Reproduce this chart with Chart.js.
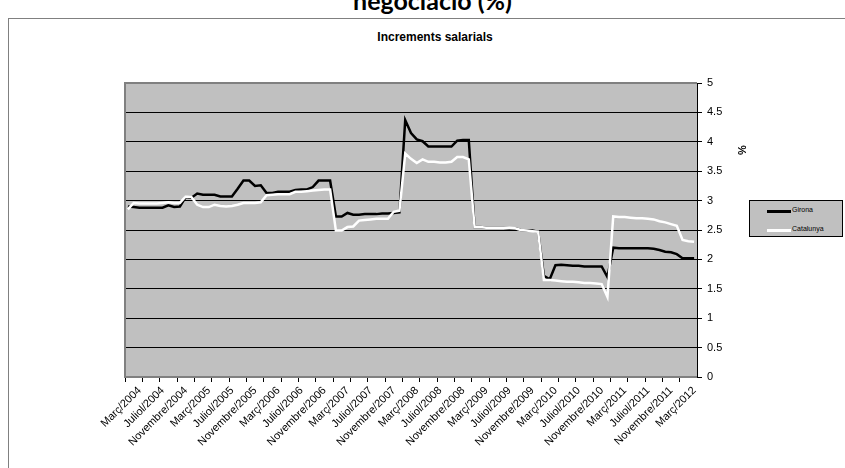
<!DOCTYPE html>
<html>
<head>
<meta charset="utf-8">
<script src="https://cdn.jsdelivr.net/npm/chart.js@4.4.1/dist/chart.umd.min.js"></script>
<style>
    body { margin: 0; width: 845px; height: 468px; overflow: hidden; position: relative; background: #fff; font-family: "Liberation Sans", Arial, sans-serif; }
    #frame { position: absolute; left: 8px; top: 18px; width: 900px; height: 500px; border: 1px solid #808080; }
    #bigTitle { position: absolute; left: 0; width: 865px; top: -15px; text-align: center; font: bold 25px Lato, sans-serif; color: #000; }
    #chartTitle { position: absolute; left: 0; width: 870px; top: 30px; text-align: center; font: bold 12px "Liberation Sans", Arial, sans-serif; color: #000; }
    #chart { position: absolute; left: 0; top: 0; }
    #legend { position: absolute; left: 749px; top: 200px; width: 94px; height: 37px; background: #C0C0C0; border: 1px solid #000; box-sizing: border-box; }
    .item { position: absolute; left: 17px; font: 7px "Liberation Sans", Arial, sans-serif; color: #000; }
    .item span.swatch { position: absolute; left: 0; width: 24px; height: 3px; }
    .item span.txt { position: absolute; left: 25px; top: -4px; white-space: nowrap; }
</style>
</head>
<body>
<div id="frame"></div>
<div id="bigTitle">negociació (%)</div>
<div id="chartTitle">Increments salarials</div>
<canvas id="chart" width="845" height="468"></canvas>
<div id="legend"></div>
<script>
// Monthly data, Febrer/2004 .. Abril/2012
const monthNames = ['Gener', 'Febrer', 'Març', 'Abril', 'Maig', 'Juny', 'Juliol', 'Agost', 'Setembre', 'Octubre', 'Novembre', 'Desembre'];

const girona = [
    2.90, 2.89, 2.88, 2.88, 2.88, 2.88, 2.88, 2.92, 2.89, 2.90,
    3.06, 3.05, 3.12, 3.10, 3.10, 3.10, 3.07, 3.07, 3.07, 3.20,
    3.34, 3.34, 3.25, 3.26, 3.13, 3.13, 3.15, 3.15, 3.15, 3.18,
    3.19, 3.19, 3.23, 3.34, 3.34, 3.34, 2.73, 2.73, 2.79, 2.76,
    2.76, 2.77, 2.77, 2.77, 2.78, 2.78, 2.79, 2.80, 4.37, 4.15,
    4.04, 4.01, 3.92, 3.92, 3.92, 3.92, 3.92, 4.02, 4.03, 4.03,
    2.55, 2.55, 2.54, 2.54, 2.54, 2.54, 2.53, 2.53, 2.50, 2.49,
    2.49, 2.47, 1.72, 1.66, 1.90, 1.91, 1.90, 1.89, 1.89, 1.88,
    1.88, 1.88, 1.88, 1.70, 2.20, 2.19, 2.19, 2.19, 2.19, 2.19,
    2.19, 2.18, 2.16, 2.13, 2.12, 2.09, 2.02, 2.02, 2.02
];

const catalunya = [
    2.85, 2.96, 2.95, 2.95, 2.95, 2.95, 2.96, 2.97, 2.96, 2.96,
    3.07, 3.06, 2.93, 2.89, 2.89, 2.93, 2.91, 2.90, 2.91, 2.93,
    2.96, 2.96, 2.96, 2.97, 3.09, 3.10, 3.11, 3.11, 3.11, 3.15,
    3.15, 3.16, 3.17, 3.18, 3.19, 3.19, 2.49, 2.49, 2.55, 2.56,
    2.66, 2.67, 2.68, 2.69, 2.69, 2.69, 2.81, 2.83, 3.80, 3.71,
    3.64, 3.70, 3.66, 3.66, 3.65, 3.65, 3.66, 3.74, 3.74, 3.70,
    2.55, 2.55, 2.54, 2.54, 2.54, 2.54, 2.54, 2.53, 2.50, 2.49,
    2.48, 2.47, 1.65, 1.65, 1.64, 1.63, 1.62, 1.62, 1.61, 1.60,
    1.60, 1.59, 1.58, 1.36, 2.73, 2.72, 2.72, 2.71, 2.70, 2.70,
    2.69, 2.68, 2.65, 2.63, 2.60, 2.57, 2.33, 2.31, 2.30
];

const yTicks = [0, 0.5, 1, 1.5, 2, 2.5, 3, 3.5, 4, 4.5, 5];

// month labels
const categories = [];
for (let i = 0; i < girona.length; i++) {
    const m = (1 + i) % 12;
    const y = 2004 + Math.floor((1 + i) / 12);
    categories.push(monthNames[m] + '/' + y);
}

const seriesNames = ['Girona', 'Catalunya'];
const seriesColors = ['#000000', '#FFFFFF'];

// Plot area background + gray border
const plotArea = {
    id: 'plotArea',
    beforeDraw(chart) {
        const { ctx, chartArea: a } = chart;
        ctx.save();
        ctx.fillStyle = '#C0C0C0';
        ctx.fillRect(a.left, a.top, a.right - a.left, a.bottom - a.top);
        ctx.restore();
    },
    beforeDatasetsDraw(chart) {
        const { ctx, chartArea: a } = chart;
        ctx.save();
        ctx.strokeStyle = '#808080';
        ctx.lineWidth = 2;
        ctx.beginPath();
        ctx.moveTo(a.right, a.top);
        ctx.lineTo(a.left, a.top);
        ctx.lineTo(a.left, a.bottom);
        ctx.lineTo(a.right, a.bottom);
        ctx.stroke();
        ctx.restore();
    },
    afterDraw(chart) {
        // axis title "%"
        const { ctx } = chart;
        ctx.save();
        ctx.translate(743, 150);
        ctx.rotate(-Math.PI / 2);
        ctx.font = 'bold 11px "Liberation Sans", Arial, sans-serif';
        ctx.fillStyle = '#000';
        ctx.textAlign = 'center';
        ctx.textBaseline = 'middle';
        ctx.fillText('%', 0, 0);
        ctx.restore();
    }
};

const ctx = document.getElementById('chart');
const chart = new Chart(ctx.getContext('2d'), {
    type: 'line',
    data: {
        labels: categories,
        datasets: [
            { label: seriesNames[0], data: girona, borderColor: seriesColors[0], backgroundColor: seriesColors[0], borderWidth: 2.5, pointRadius: 0, tension: 0, order: 1 },
            { label: seriesNames[1], data: catalunya, borderColor: seriesColors[1], backgroundColor: seriesColors[1], borderWidth: 2.5, pointRadius: 0, tension: 0, order: 0 }
        ]
    },
    options: {
        responsive: false,
        animation: false,
        devicePixelRatio: 1,
        layout: { padding: { left: 125, top: 83, right: 98, bottom: 11 } },
        plugins: {
            legend: { display: false },
            title: { display: false },
            tooltip: { enabled: false }
        },
        scales: {
            x: {
                offset: true,
                afterFit(scale) { scale.height = 80; },
                border: { display: false },
                grid: {
                    offset: true,
                    drawOnChartArea: false,
                    drawTicks: true,
                    tickLength: 5,
                    color: c => (c.index !== undefined && c.index % 3 === 0) ? '#000' : 'rgba(0,0,0,0)'
                },
                ticks: {
                    autoSkip: false,
                    minRotation: 45,
                    maxRotation: 45,
                    padding: 2,
                    labelOffset: 6,
                    color: '#000',
                    font: { family: '"Liberation Sans", Arial, sans-serif', size: 11 },
                    callback(val, index) {
                        return index % 4 === 1 ? categories[index] : '';
                    }
                }
            },
            y: {
                position: 'right',
                min: 0,
                max: 5,
                afterFit(scale) { scale.width = 50; },
                afterBuildTicks(scale) { scale.ticks = yTicks.map(v => ({ value: v })); },
                border: { display: true, color: '#000', width: 1 },
                grid: { color: '#000', lineWidth: 1, drawTicks: true, tickLength: 5 },
                ticks: {
                    color: '#000',
                    padding: 5,
                    font: { family: '"Liberation Sans", Arial, sans-serif', size: 11 },
                    callback: value => String(value)
                }
            }
        }
    },
    plugins: [plotArea]
});

// HTML legend built from the datasets
const legend = document.getElementById('legend');
chart.data.datasets.forEach((ds, i) => {
    const item = document.createElement('div');
    item.className = 'item';
    item.style.top = (9 + i * 19) + 'px';
    item.innerHTML = '<span class="swatch" style="background:' + ds.borderColor + '"></span><span class="txt">' + ds.label + '</span>';
    legend.appendChild(item);
});
</script>
</body>
</html>
